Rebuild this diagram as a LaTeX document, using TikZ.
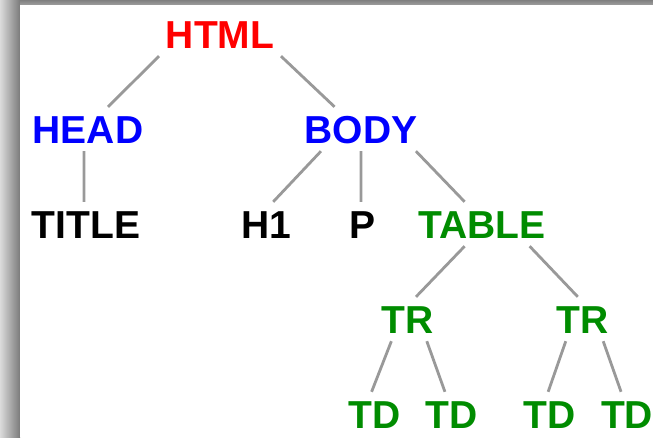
\documentclass[tikz,border=0pt]{standalone}
\usepackage{fontspec}
\setmainfont{Liberation Sans}
\begin{document}
\begin{tikzpicture}[x=1pt,y=-1pt,
  tag/.style={font=\bfseries\fontsize{39}{39}\selectfont,
    inner xsep=8pt, inner ysep=8pt, text height=28pt, text depth=0pt},
  root/.style={tag, text=red},
  sect/.style={tag, text=blue},
  leaf/.style={tag, text=black},
  tbl/.style={tag, text={rgb,255:red,0;green,140;blue,0}},
  link/.style={draw=black!40, line width=2.8pt}]
  \useasboundingbox (0,0) rectangle (653,437);
  % window shadow along the left and top edges
  \shade[left color=black!14, right color=black!52] (0,0) rectangle (20,437);
  \shade[top color=black!50, bottom color=black!38] (20,0) rectangle (653,5);
  \fill[white] (20,5) rectangle (653,437);

  % element tree
  \node[root] (html)  at (220,34)  {HTML};
  \node[sect] (head)  at (88,129)  {HEAD};
  \node[sect] (body)  at (361,129) {BODY};
  \node[leaf] (title) at (86,224)  {TITLE};
  \node[leaf] (h1)    at (266,224) {H1};
  \node[leaf] (p)     at (363,224) {P};
  \node[tbl]  (table) at (482,224) {TABLE};
  \node[tbl]  (trl)   at (407.5,319) {TR};
  \node[tbl]  (trr)   at (582.5,319) {TR};
  \node[tbl]  (td1)   at (374.7,414) {TD};
  \node[tbl]  (td2)   at (451.3,414) {TD};
  \node[tbl]  (td3)   at (549.7,414) {TD};
  \node[tbl]  (td4)   at (627,414)   {TD};

  % connectors
  \draw[link] (html.200)  -- (head.48);
  \draw[link] (html.340)  -- (body.140);
  \draw[link] (head.260)  -- (title.95);
  \draw[link] (body.209)  -- (h1.72);
  \draw[link] (body.270)  -- (p.95);
  \draw[link] (body.338)  -- (table.128);
  \draw[link] (table.232) -- (trl.69);
  \draw[link] (table.335) -- (trr.102);
  \draw[link] (trl.234)   -- (td1.98);
  \draw[link] (trl.311)   -- (td2.106);
  \draw[link] (trr.233)   -- (td3.94);
  \draw[link] (trr.313)   -- (td4.105);
\end{tikzpicture}
\end{document}
